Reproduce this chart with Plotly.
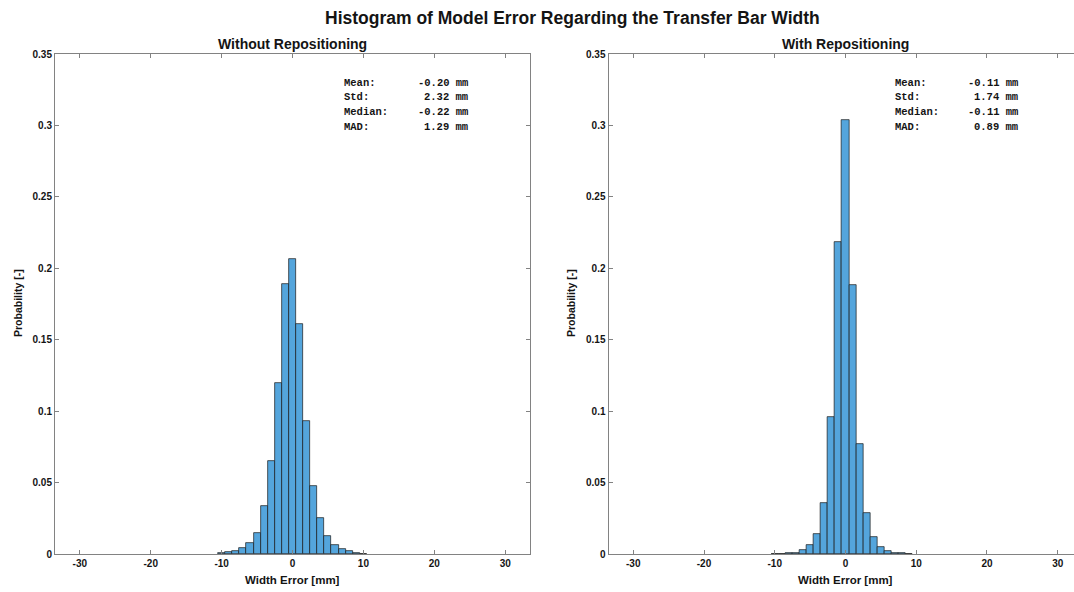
import plotly.graph_objects as go

# ---- data ----
bin_centers_left = [-10, -9, -8, -7, -6, -5, -4, -3, -2, -1, 0, 1, 2, 3, 4, 5, 6, 7, 8, 9, 10]
prob_left = [0.0005, 0.0012, 0.0024, 0.0041, 0.0076, 0.0146, 0.0333, 0.0651, 0.1198, 0.1888,
             0.2065, 0.1610, 0.0930, 0.0473, 0.0251, 0.0123, 0.0065, 0.0036, 0.0018, 0.0008, 0.0003]
bin_centers_right = [-10, -9, -8, -7, -6, -5, -4, -3, -2, -1, 0, 1, 2, 3, 4, 5, 6, 7, 8, 9]
prob_right = [0.0001, 0.0002, 0.0004, 0.0010, 0.0025, 0.0060, 0.0141, 0.0356, 0.0960, 0.2187,
              0.3036, 0.1880, 0.0770, 0.0286, 0.0122, 0.0047, 0.0019, 0.0009, 0.0004, 0.0002]
bin_width = 1.0

x_tickvals = [-30, -20, -10, 0, 10, 20, 30]
x_ticktext = ["-30", "-20", "-10", "0", "10", "20", "30"]
y_tickvals = [0, 0.05, 0.1, 0.15, 0.2, 0.25, 0.3, 0.35]
y_ticktext = ["0", "0.05", "0.1", "0.15", "0.2", "0.25", "0.3", "0.35"]

stat_labels = ["Mean:", "Std:", "Median:", "MAD:"]
stats_left = ["-0.20", "2.32", "-0.22", "1.29"]
stats_right = ["-0.11", "1.74", "-0.11", "0.89"]
unit = "mm"

main_title = "Histogram of Model Error Regarding the Transfer Bar Width"
sub_titles = ["Without Repositioning", "With Repositioning"]
x_title = "Width Error [mm]"
y_title = "Probability [-]"

# ---- style ----
W, H = 1074, 592
ML, MR, MT, MB = 55, 0, 54, 38
bar_fill = "rgb(84,165,220)"
bar_edge = "rgb(25,25,25)"
axis_col = "rgb(130,130,130)"
txt_col = "rgb(20,20,20)"
sans = "Liberation Sans, Arial, sans-serif"
mono = "Liberation Mono, Courier New, monospace"

plot_w = W - ML - MR
plot_h = H - MT - MB
left_dom = [0, 475 / plot_w]
right_dom = [(608.5 - ML) / plot_w, 1.0]

fig = go.Figure()
fig.add_trace(go.Bar(x=bin_centers_left, y=prob_left, width=bin_width,
                     marker=dict(color=bar_fill, line=dict(color=bar_edge, width=0.7)),
                     xaxis="x", yaxis="y", showlegend=False))
fig.add_trace(go.Bar(x=bin_centers_right, y=prob_right, width=bin_width,
                     marker=dict(color=bar_fill, line=dict(color=bar_edge, width=0.7)),
                     xaxis="x2", yaxis="y2", showlegend=False))

tickfont = dict(family=sans, size=10, color=txt_col, weight="bold")
common_x = dict(tickvals=x_tickvals, ticktext=x_ticktext, ticks="inside", ticklen=4,
                tickcolor=axis_col, showline=True, linecolor=axis_col, linewidth=1,
                showgrid=False, zeroline=False, tickfont=tickfont, mirror="ticks")
common_y = dict(tickvals=y_tickvals, ticktext=y_ticktext, ticks="inside", ticklen=4,
                tickcolor=axis_col, showline=True, linecolor=axis_col, linewidth=1,
                showgrid=False, zeroline=False, tickfont=tickfont, range=[0, 0.35])

fig.update_layout(
    width=W, height=H,
    margin=dict(l=ML, r=MR, t=MT, b=MB, pad=0, autoexpand=False),
    paper_bgcolor="white", plot_bgcolor="white",
    bargap=0,
    xaxis=dict(domain=left_dom, range=[-33.5, 33.5], anchor="y", **common_x),
    yaxis=dict(domain=[0, 1], anchor="x", mirror="ticks", **common_y),
    xaxis2=dict(domain=right_dom, range=[-33.5, 32.3], anchor="y2", **common_x),
    yaxis2=dict(domain=[0, 1], anchor="x2", mirror=False, **common_y),
)


def px(xp):
    return (xp - ML) / plot_w


def py(yp):
    return (H - MB - yp) / plot_h


def note(text, x, y, size, family=sans, xanchor="center", angle=0):
    return dict(text=text, x=x, y=y, xref="paper", yref="paper", xanchor=xanchor,
                yanchor="middle", showarrow=False, textangle=angle,
                font=dict(family=family, size=size, color=txt_col))


ann = [note("<b>" + main_title + "</b>", px(572), py(18), 17.5)]
for cx, t in zip([292, 845.5], sub_titles):
    ann.append(note("<b>" + t + "</b>", px(cx), py(44), 14))
for cx in [292, 845.5]:
    ann.append(note("<b>" + x_title + "</b>", px(cx), py(580), 11.5))
for cx in [18, 571]:
    ann.append(note("<b>" + y_title + "</b>", px(cx), py(303), 10.5, angle=-90))

for x0, x1, vals in zip([342, 893], [470, 1020], [stats_left, stats_right]):
    for i, (lab, v) in enumerate(zip(stat_labels, vals)):
        yy = py(83 + i * 14.5)
        ann.append(note("<b>" + lab + "</b>", px(x0), yy, 10.5, family=mono, xanchor="left"))
        ann.append(note("<b>" + v + " " + unit + "</b>", px(x1), yy, 10.5, family=mono, xanchor="right"))

fig.update_layout(annotations=ann)
fig.write_html("out.html", config={"displayModeBar": False},
               post_script="document.body.style.margin='0';document.body.style.overflow='hidden';")
